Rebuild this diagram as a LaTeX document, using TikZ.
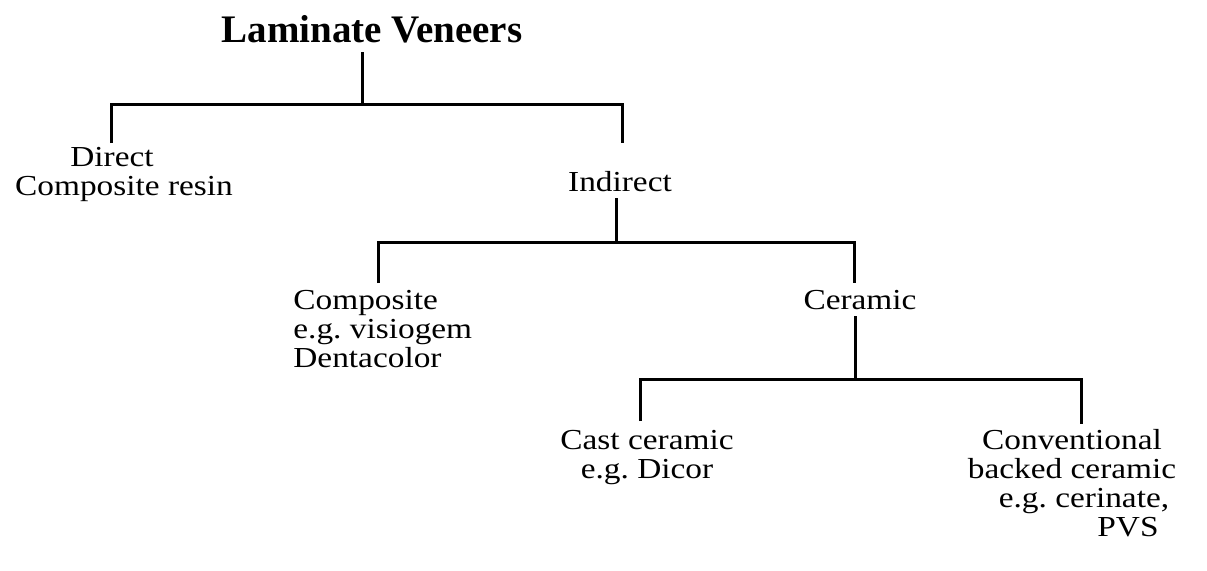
\documentclass[tikz,border=0pt]{standalone}
\usepackage{fontspec}
\setmainfont{Liberation Serif}[FakeStretch=1.15]
\newfontfamily\headfont{Liberation Serif}
\begin{document}
\begin{tikzpicture}[x=0.5pt,y=-0.5pt]
\useasboundingbox (0,0) rectangle (1207,570);
\tikzset{
  branch/.style={line width=1.5pt, line join=miter, line cap=butt},
  headtext/.style={inner sep=0pt, anchor=base, font=\headfont\bfseries\fontsize{19.5}{23}\selectfont},
  leaf/.style={inner sep=0pt, anchor=base, font=\fontsize{14.5}{14.5}\selectfont},
}
\renewcommand\arraystretch{1}

% texts
\node[headtext] (title) at (372,42) {Laminate Veneers};
\node[leaf] (direct) at (124,166) {\begin{tabular}[t]{@{}c@{}}Direct\hspace*{12pt}\\Composite resin\end{tabular}};
\node[leaf] (indirect) at (620,191) {Indirect};
\node[leaf, anchor=base west] (composite) at (293,309) {\begin{tabular}[t]{@{}l@{}}Composite\\e.g.\ visiogem\\Dentacolor\end{tabular}};
\node[leaf] (ceramic) at (860,309) {Ceramic};
\node[leaf] (cast) at (647,449) {\begin{tabular}[t]{@{}c@{}}Cast ceramic\\e.g.\ Dicor\end{tabular}};
\node[leaf] (conv) at (1072,449) {\begin{tabular}[t]{@{}c@{}}Conventional\\backed ceramic\\\hspace*{12pt}e.g.\ cerinate,\\\hspace*{56pt}PVS\end{tabular}};

% junctions and branch ends
\coordinate (j1) at (362,104);
\coordinate (dtop) at (111,143);
\coordinate (itop) at (622,143);
\coordinate (j2) at (616,242);
\coordinate (ctop) at (378,283);
\coordinate (rtop) at (854,283);
\coordinate (j3) at (855,379);
\coordinate (stop) at (640,421);
\coordinate (vtop) at (1081,424);

% connectors
\draw[branch] (title.base -| j1) ++(0,10) -- (j1);
\draw[branch] (dtop) |- (j1) -| (itop);
\draw[branch] (indirect.base -| j2) ++(0,7) -- (j2);
\draw[branch] (ctop) |- (j2) -| (rtop);
\draw[branch] (ceramic.base -| j3) ++(0,7) -- (j3);
\draw[branch] (stop) |- (j3) -| (vtop);
\end{tikzpicture}
\end{document}
